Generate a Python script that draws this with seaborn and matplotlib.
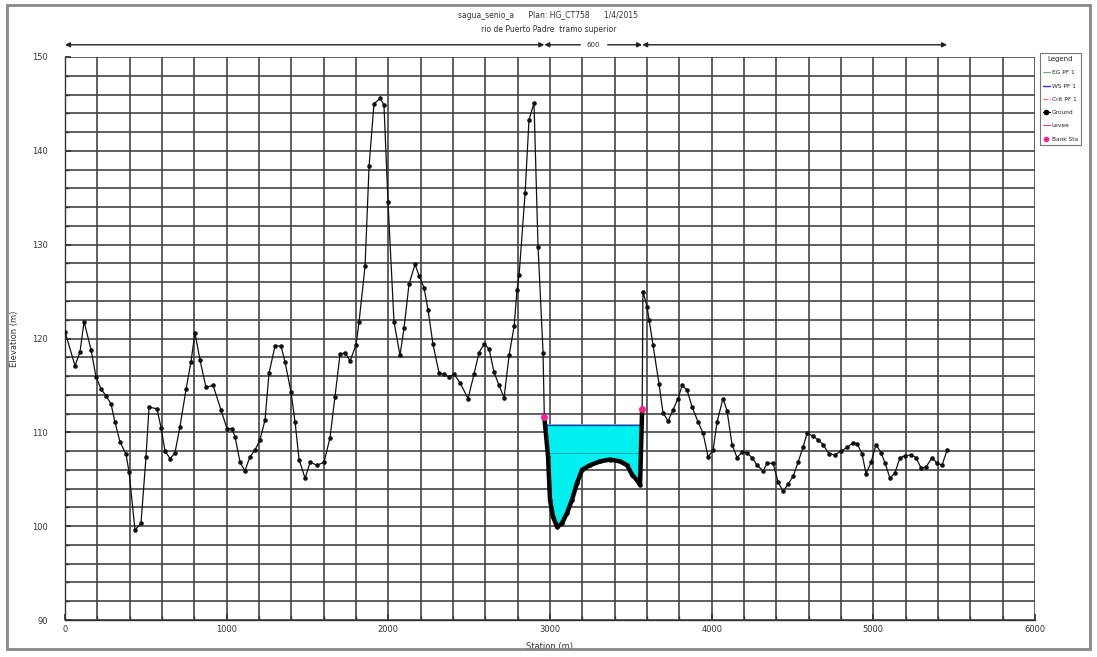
import numpy as np
import pandas as pd
import matplotlib.pyplot as plt
import matplotlib.patches as mpatches
from matplotlib.lines import Line2D
import seaborn as sns

# ground profile (station m, elevation m)
station = [0, 62, 93, 118, 161, 192, 223, 254, 285, 309, 340, 377, 396, 433, 470, 501, 520,
           569, 594, 619, 650, 680, 711, 749, 779, 804, 835, 872, 916, 965, 1002, 1033, 1052,
           1083, 1113, 1144, 1175, 1206, 1237, 1262, 1299, 1336, 1361, 1398, 1423, 1448, 1485,
           1516, 1559, 1602, 1639, 1670, 1701, 1732, 1763, 1800, 1819, 1856, 1881, 1911, 1949,
           1973, 1998, 2035, 2072, 2097, 2128, 2165, 2190, 2221, 2246, 2276, 2314, 2345, 2375,
           2406, 2443, 2493, 2530, 2561, 2592, 2623, 2654, 2685, 2716, 2747, 2778, 2796, 2809,
           2846, 2870, 2901, 2926, 2957, 2965,
           2988, 3000, 3019, 3044, 3074, 3105, 3136, 3167, 3198, 3248, 3310, 3371, 3433, 3477,
           3507, 3538, 3557, 3570,
           3575, 3600, 3613, 3637, 3674, 3699, 3730, 3761, 3792, 3817, 3848, 3879, 3916, 3947,
           3978, 4009, 4033, 4070, 4095, 4126, 4157, 4188, 4219, 4250, 4281, 4318, 4343, 4380,
           4411, 4442, 4473, 4504, 4534, 4565, 4590, 4627, 4658, 4689, 4726, 4763, 4800, 4838,
           4875, 4899, 4930, 4955, 4986, 5017, 5048, 5073, 5103, 5134, 5165, 5196, 5233, 5264,
           5295, 5326, 5363, 5394, 5425, 5456]
elevation = [120.7, 117.1, 118.6, 121.8, 118.8, 115.9, 114.6, 113.9, 113.0, 111.1, 109.0, 107.7,
             105.8, 99.6, 100.3, 107.4, 112.7, 112.5, 110.5, 108.0, 107.2, 107.8, 110.6, 114.6,
             117.5, 120.6, 117.7, 114.8, 115.0, 112.4, 110.4, 110.4, 109.5, 106.8, 105.9, 107.4,
             108.1, 109.2, 111.3, 116.3, 119.2, 119.2, 117.5, 114.3, 111.1, 107.1, 105.1, 106.8,
             106.5, 106.8, 109.4, 113.8, 118.3, 118.5, 117.6, 119.3, 121.8, 127.7, 138.4, 145.0,
             145.6, 144.9, 134.5, 121.8, 118.2, 121.1, 125.8, 127.9, 126.7, 125.4, 123.0, 119.4,
             116.3, 116.2, 115.9, 116.2, 115.3, 113.6, 116.2, 118.5, 119.4, 118.9, 116.4, 115.0,
             113.7, 118.2, 121.3, 125.2, 126.8, 135.5, 143.3, 145.1, 129.8, 118.5, 111.6,
             107.4, 102.8, 101.0, 99.9, 100.3, 101.4, 102.8, 104.6, 106.0, 106.5, 106.9, 107.1,
             106.9, 106.5, 105.5, 104.9, 104.4, 112.5,
             125.0, 123.4, 122.0, 119.3, 115.2, 112.1, 111.2, 112.4, 113.6, 115.0, 114.5, 112.7,
             111.1, 109.9, 107.4, 108.1, 111.1, 113.6, 112.3, 108.7, 107.3, 107.9, 107.8, 107.3,
             106.5, 105.9, 106.7, 106.7, 104.7, 103.7, 104.5, 105.3, 106.8, 108.4, 109.9, 109.6,
             109.2, 108.7, 107.7, 107.6, 108.0, 108.4, 108.9, 108.8, 107.7, 105.6, 106.8, 108.7,
             107.8, 106.7, 105.1, 105.7, 107.3, 107.5, 107.6, 107.3, 106.2, 106.3, 107.3, 106.7,
             106.5, 108.1]

left_bank = 2965
right_bank = 3570
ws_elev = 110.8      # WS PF 1
eg_elev = 110.9      # EG PF 1
crit_elev = 107.8    # Crit PF 1
channel_label = "600"

df = pd.DataFrame({"Station": station, "Elevation": elevation})
chan = df[(df["Station"] >= left_bank) & (df["Station"] <= right_bank)]

sns.set_theme(style="white")
plt.rcParams["font.family"] = ["DejaVu Sans"]

fig = plt.figure(figsize=(10.97, 6.57), dpi=100)
ax = fig.add_axes([65 / 1097, 1 - 620 / 657, 970 / 1097, 563 / 657])

# water in the main channel
ax.fill_between(chan["Station"], chan["Elevation"], ws_elev,
                where=chan["Elevation"] <= ws_elev, color="#00f0f0", zorder=2,
                interpolate=True)
ax.plot([left_bank, right_bank], [ws_elev, ws_elev], color="#2030ff", lw=1.0, zorder=3)
ax.plot([left_bank, right_bank], [eg_elev, eg_elev], color="#60c060", lw=0.6, zorder=3)
ax.plot([left_bank + 20, right_bank - 20], [crit_elev, crit_elev], color="#20a8c0",
        lw=0.8, zorder=3)

# ground
sns.lineplot(data=df, x="Station", y="Elevation", sort=False, color="#111", lw=0.9,
             marker="o", markersize=3.3, markeredgewidth=0, ax=ax, zorder=4)
ax.plot(chan["Station"], chan["Elevation"], color="black", lw=3.2, zorder=5)

# bank stations
bank = df[df["Station"].isin([left_bank, right_bank])]
ax.plot(bank["Station"], bank["Elevation"], "o", color="#ff2090", ms=4, zorder=6)

ax.set_xlim(0, 6000)
ax.set_ylim(90, 150)
ax.set_xticks(np.arange(0, 6001, 1000))
ax.set_yticks(np.arange(90, 151, 10))
ax.set_xticks(np.arange(0, 6001, 200), minor=True)
ax.set_yticks(np.arange(90, 151, 2), minor=True)
ax.grid(which="both", color="#444", lw=1.2)
ax.set_axisbelow(True)
ax.tick_params(axis="both", which="major", labelsize=6, length=4, color="#333",
               direction="in", labelcolor="#333", bottom=True, left=True)
ax.tick_params(axis="y", which="major", pad=12)
ax.tick_params(axis="both", which="minor", length=3, color="#333", direction="in",
               bottom=True, left=True)
for s in ax.spines.values():
    s.set_color("#333")
    s.set_linewidth(1.0)
ax.spines["top"].set_visible(False)
ax.spines["right"].set_visible(False)
ax.set_xlabel("Station (m)", fontsize=6, color="#333", labelpad=6)
ax.set_ylabel("Elevation (m)", fontsize=6, color="#333", labelpad=10)

# reach extent dimension line above the plot
y_dim = 151.3
x0, x1 = df["Station"].iloc[0], df["Station"].iloc[-1]
for a, b in [(x0, left_bank), (left_bank, right_bank), (right_bank, x1)]:
    ax.annotate("", xy=(a, y_dim), xytext=(b, y_dim), annotation_clip=False,
                arrowprops=dict(arrowstyle="<|-|>", color="#222", lw=1.0,
                                mutation_scale=7, shrinkA=0, shrinkB=0))
ax.text((left_bank + right_bank) / 2, y_dim, channel_label, fontsize=5, color="#333",
        ha="center", va="center", backgroundcolor="white", clip_on=False)

# titles
fig.text(0.5, 1 - 15 / 657, "sagua_senio_a      Plan: HG_CT758      1/4/2015",
         ha="center", va="center", fontsize=5.5, color="#333")
fig.text(0.5, 1 - 29 / 657, "rio de Puerto Padre  tramo superior",
         ha="center", va="center", fontsize=5.5, color="#333")

# legend
handles = [
    Line2D([], [], color="#60c060", lw=0.8),
    Line2D([], [], color="#2030ff", lw=1.0),
    Line2D([], [], color="#ff6030", lw=0.8, ls="--"),
    Line2D([], [], color="black", lw=0.9, marker="o", ms=3),
    Line2D([], [], color="#c040c0", lw=0.8),
    Line2D([], [], color="#ff2090", lw=0, marker="o", ms=3),
]
labels = ["EG PF 1", "WS PF 1", "Crit PF 1", "Ground", "Levee", "Bank Sta"]
leg = fig.legend(handles, labels, title="Legend", loc="upper left",
                 bbox_to_anchor=(1039 / 1097, 1 - 52 / 657), fontsize=4.2,
                 title_fontsize=5, handlelength=1.1, labelspacing=1.4, borderpad=0.5,
                 handletextpad=0.4, borderaxespad=0.2, frameon=True, fancybox=False,
                 edgecolor="#555")
leg.get_frame().set_linewidth(0.8)

# outer frame
fig.add_artist(mpatches.Rectangle((7 / 1097, 8 / 657), 1083 / 1097, 644 / 657,
                                  transform=fig.transFigure, fill=False,
                                  edgecolor="#888", lw=2))

fig.savefig("out.png", dpi=100)
